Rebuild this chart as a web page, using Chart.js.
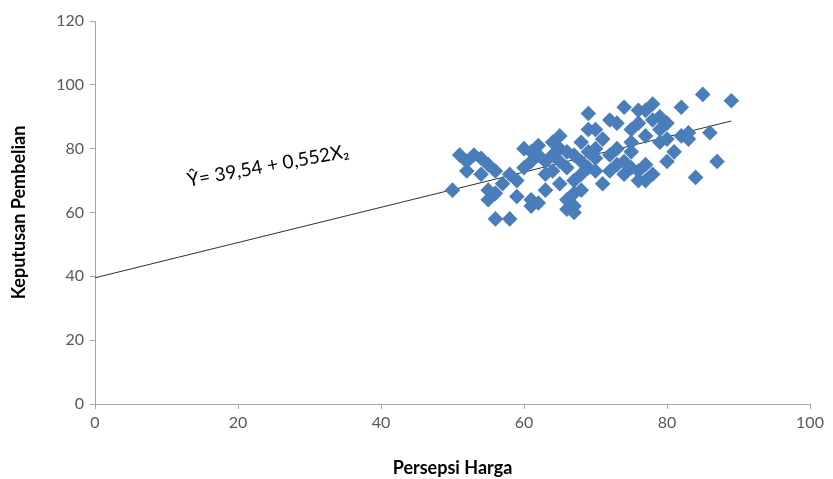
<!DOCTYPE html>
<html>
<head>
<meta charset="utf-8">
<script src="https://cdn.jsdelivr.net/npm/chart.js@4/dist/chart.umd.min.js"></script>
<style>
  html, body { margin: 0; padding: 0; background: #fff; }
  #wrap { width: 833px; height: 479px; }
</style>
</head>
<body>
<div id="wrap"><canvas id="scatterChart" width="833" height="479"></canvas></div>
<script>
// Data pengamatan: Persepsi Harga (X2) vs Keputusan Pembelian (Y)
const persepsiHarga = [
  50, 51, 52, 52, 53, 54, 55, 54, 55, 55, 56, 56, 58, 57, 56, 58, 59, 59, 60, 60,
  61, 61, 62, 62, 63, 61, 61, 62, 63, 63, 64, 64, 64, 65, 65, 65, 65, 66, 66, 66,
  66, 67, 67, 67, 67, 67, 68, 68, 68, 68, 69, 69, 69, 69, 70, 70, 70, 70, 71, 71,
  72, 72, 72, 73, 73, 73, 74, 74, 74, 75, 75, 75, 75, 76, 76, 76, 76, 77, 77, 77,
  77, 78, 78, 78, 79, 79, 79, 80, 80, 80, 81, 82, 82, 83, 83, 84, 85, 86, 87, 89
];
const keputusanPembelian = [
  67, 78, 76, 73, 78, 77, 75, 72, 67, 64, 66, 58, 58, 69, 73, 72, 65, 70, 74, 80,
  79, 76, 81, 78, 76, 64, 62, 63, 67, 72, 82, 78, 73, 84, 80, 76, 69, 79, 74, 64,
  61, 60, 62, 66, 70, 78, 82, 76, 67, 72, 91, 86, 79, 74, 86, 80, 77, 73, 69, 83,
  73, 89, 78, 88, 80, 75, 93, 76, 72, 86, 82, 79, 74, 73, 88, 92, 70, 70, 92, 84,
  75, 94, 89, 72, 86, 90, 82, 83, 88, 76, 79, 93, 84, 85, 83, 71, 97, 85, 76, 95
];

// Garis regresi (dua titik ujung)
const garisX = [0, 89];
const garisY = [39.54, 88.67];

// Label sumbu
const xTicks = [0, 20, 40, 60, 80, 100];
const yTicks = [0, 20, 40, 60, 80, 100, 120];
const persamaan = 'Ŷ= 39,54 + 0,552X₂';
const posisiPersamaan = { x: 24.2, y: 74.6 };

const titik = persepsiHarga.map((x, i) => ({ x: x, y: keputusanPembelian[i] }));
const garis = garisX.map((x, i) => ({ x: x, y: garisY[i] }));

const fontTeks = 'Lato, "Liberation Sans", sans-serif';
const warnaTeks = '#595959';
const warnaSumbu = '#a6a6a6';

// Plugin untuk menulis persamaan regresi (miring)
const labelPersamaan = {
  id: 'labelPersamaan',
  afterDatasetsDraw(chart) {
    const c = chart.ctx;
    const px = chart.scales.x.getPixelForValue(posisiPersamaan.x);
    const py = chart.scales.y.getPixelForValue(posisiPersamaan.y);
    c.save();
    c.translate(px, py);
    c.rotate(-10.5 * Math.PI / 180);
    c.font = '19px ' + fontTeks;
    c.fillStyle = '#000';
    c.textAlign = 'center';
    c.textBaseline = 'middle';
    c.fillText(persamaan, 0, 0);
    c.restore();
  }
};

const ctx = document.getElementById('scatterChart').getContext('2d');
const chart = new Chart(ctx, {
  type: 'scatter',
  data: {
    datasets: [
      {
        label: 'Data',
        data: titik,
        pointStyle: 'rectRot',
        pointRadius: 7.8,
        pointHoverRadius: 7.8,
        backgroundColor: '#4A7EBB',
        borderColor: '#4A7EBB',
        borderWidth: 0
      },
      {
        type: 'line',
        label: 'Regresi',
        data: garis,
        borderColor: '#303030',
        borderWidth: 1,
        pointRadius: 0,
        fill: false
      }
    ]
  },
  options: {
    responsive: false,
    animation: false,
    layout: { padding: { top: 21, right: 23, left: 8, bottom: 0 } },
    plugins: {
      legend: { display: false },
      tooltip: { enabled: false }
    },
    scales: {
      x: {
        type: 'linear',
        min: 0, max: 100,
        afterBuildTicks: s => { s.ticks = xTicks.map(v => ({ value: v })); },
        afterFit: s => { s.height = 75; },
        border: { display: true, color: warnaSumbu, width: 1 },
        grid: { drawOnChartArea: false, drawTicks: true, tickLength: 5, color: warnaSumbu },
        ticks: { color: warnaTeks, font: { family: fontTeks, size: 16 }, padding: 4 },
        title: {
          display: true,
          text: 'Persepsi Harga',
          color: '#000',
          font: { family: fontTeks, size: 18, weight: 'bold' },
          padding: { top: 6, bottom: 0 }
        }
      },
      y: {
        type: 'linear',
        min: 0, max: 120,
        afterBuildTicks: s => { s.ticks = yTicks.map(v => ({ value: v })); },
        afterFit: s => { s.width = 87; },
        border: { display: true, color: warnaSumbu, width: 1 },
        grid: { drawOnChartArea: false, drawTicks: true, tickLength: 5, color: warnaSumbu },
        ticks: { color: warnaTeks, font: { family: fontTeks, size: 16 }, padding: 6 },
        title: {
          display: true,
          text: 'Keputusan Pembelian',
          color: '#000',
          font: { family: fontTeks, size: 18, weight: 'bold' },
          padding: { top: 0, bottom: 8 }
        }
      }
    }
  },
  plugins: [labelPersamaan]
});
</script>
</body>
</html>
